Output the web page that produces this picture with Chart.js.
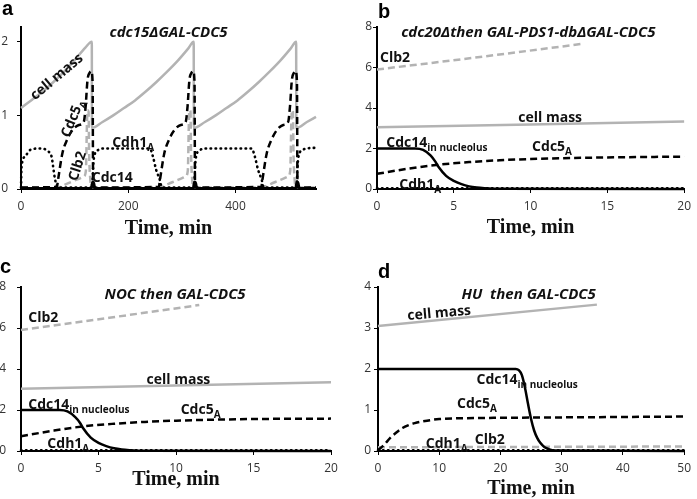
<!DOCTYPE html>
<html>
<head>
<meta charset="utf-8">
<script src="https://cdn.jsdelivr.net/npm/chart.js@4.4.1/dist/chart.umd.min.js"></script>
<style>
  body { margin: 0; background: #fff; width: 697px; height: 499px; position: relative; overflow: hidden; }
  .panel { position: absolute; }
</style>
</head>
<body>
<div class="panel" style="left:0;top:0;width:348px;height:248px"><canvas id="pa"></canvas></div>
<div class="panel" style="left:348px;top:0;width:349px;height:248px"><canvas id="pb"></canvas></div>
<div class="panel" style="left:0;top:248px;width:348px;height:251px"><canvas id="pc"></canvas></div>
<div class="panel" style="left:348px;top:248px;width:349px;height:251px"><canvas id="pd"></canvas></div>
<script>
// ---- panel a : cdc15 GAL-CDC5 (time in min) ----
const aMassT = [0, 20, 40, 60, 80, 100, 120, 132, 132.3, 152, 172, 192, 212, 232, 252, 272, 292, 312, 322, 322.3, 343, 363, 383, 403, 423, 443, 463, 483, 503, 513, 513.3, 533, 550];
const aMassY = [1.10, 1.21, 1.32, 1.45, 1.59, 1.75, 1.92, 2.0, 0.83, 0.91, 1.0, 1.10, 1.20, 1.32, 1.45, 1.59, 1.74, 1.91, 2.0, 0.83, 0.91, 1.0, 1.10, 1.20, 1.32, 1.45, 1.59, 1.74, 1.91, 2.0, 0.83, 0.91, 0.98];

const aCdc5T = [0, 67, 69, 77, 86, 96, 108, 117, 120.5, 124, 128, 131, 133.5, 134.5,
  257, 259, 267, 276, 286, 298, 307, 310.5, 314, 318, 321, 323.5, 324.5,
  448, 450, 458, 467, 477, 489, 498, 501.5, 505, 509, 512, 514.5, 515.5, 550];
const aCdc5Y = [0.02, 0.03, 0.12, 0.48, 0.67, 0.8, 0.87, 0.91, 1.12, 1.48, 1.58, 1.6, 1.45, 0.02,
  0.03, 0.12, 0.48, 0.67, 0.8, 0.87, 0.91, 1.12, 1.48, 1.58, 1.6, 1.45, 0.02,
  0.03, 0.12, 0.48, 0.67, 0.8, 0.87, 0.91, 1.12, 1.48, 1.58, 1.6, 1.45, 0.02, 0.02];

const aClb2T = [0, 67, 85, 105, 117, 121, 123, 124, 126, 127, 129, 131, 133,
  257, 275, 295, 307, 311, 313, 314, 316, 317, 319, 321, 323,
  448, 466, 486, 498, 502, 504, 505, 507, 508, 510, 512, 514, 550];
const aClb2Y = [0.02, 0.02, 0.07, 0.13, 0.17, 0.25, 0.9, 1.07, 1.05, 0.5, 0.15, 0.03, 0.02,
  0.02, 0.07, 0.13, 0.17, 0.25, 0.9, 1.07, 1.05, 0.5, 0.15, 0.03, 0.02,
  0.02, 0.07, 0.13, 0.17, 0.25, 0.9, 1.07, 1.05, 0.5, 0.15, 0.03, 0.02, 0.02];

const aCdh1T = [0, 1, 7.5, 17, 35, 51, 57, 60, 63, 66.5, 70,
  132, 133, 135, 137, 144, 152, 240, 246, 252, 259, 262, 266,
  322, 323, 325, 327, 334, 342, 430, 436, 442, 449, 452, 456,
  513, 514, 516, 518, 525, 533, 550];
const aCdh1Y = [0.02, 0.3, 0.44, 0.53, 0.55, 0.51, 0.44, 0.3, 0.15, 0.05, 0.02,
  0.02, 0.05, 0.35, 0.46, 0.53, 0.55, 0.55, 0.44, 0.26, 0.12, 0.03, 0.02,
  0.02, 0.05, 0.35, 0.46, 0.53, 0.55, 0.55, 0.44, 0.26, 0.12, 0.03, 0.02,
  0.02, 0.05, 0.35, 0.46, 0.53, 0.55, 0.56];

const aCdc14T = [0, 131, 132, 134, 136, 138, 321, 322, 324, 326, 328, 512, 513, 515, 517, 519, 550];
const aCdc14Y = [0.01, 0.01, 0.06, 0.1, 0.08, 0.01, 0.01, 0.06, 0.1, 0.08, 0.01, 0.01, 0.06, 0.1, 0.08, 0.01, 0.01];

// ---- panel b : cdc20 then GAL-PDS1-db GAL-CDC5 ----
const bClb2T = [0, 6.7, 13.5];
const bClb2Y = [5.9, 6.52, 7.18];
const bMassT = [0, 20];
const bMassY = [3.05, 3.33];
const bCdc14T = [0, 2.5, 3, 3.5, 3.8, 4, 4.5, 5, 5.5, 6, 6.5, 7, 8, 20];
const bCdc14Y = [2, 2, 1.93, 1.65, 1.35, 1.1, 0.65, 0.4, 0.24, 0.13, 0.07, 0.04, 0.01, 0];
const bCdc5T = [0, 2, 4, 6, 8, 10, 12, 15, 20];
const bCdc5Y = [0.75, 1.0, 1.2, 1.33, 1.42, 1.48, 1.52, 1.56, 1.6];
const bCdh1T = [0, 20];
const bCdh1Y = [0.04, 0.04];

// ---- panel c : NOC then GAL-CDC5 ----
const cClb2T = [0, 5.7, 11.5];
const cClb2Y = [5.9, 6.5, 7.12];
const cMassT = [0, 20];
const cMassY = [3.04, 3.35];
const cCdc14T = [0, 2.5, 3, 3.5, 3.8, 4, 4.5, 5, 5.5, 6, 6.5, 7, 8, 20];
const cCdc14Y = [2, 2, 1.93, 1.65, 1.38, 1.12, 0.65, 0.4, 0.24, 0.13, 0.07, 0.04, 0.01, 0];
const cCdc5T = [0, 2, 4, 6, 8, 10, 12, 15, 20];
const cCdc5Y = [0.72, 0.98, 1.2, 1.33, 1.42, 1.48, 1.52, 1.56, 1.58];
const cCdh1T = [0, 20];
const cCdh1Y = [0.04, 0.04];

// ---- panel d : HU then GAL-CDC5 ----
const dMassT = [0, 35.75];
const dMassY = [3.05, 3.57];
const dCdc14T = [0, 22.5, 23, 23.5, 24, 24.5, 25, 25.5, 26, 26.5, 27, 27.5, 28, 29, 50];
const dCdc14Y = [2, 2, 1.97, 1.85, 1.55, 1.15, 0.78, 0.5, 0.32, 0.2, 0.12, 0.07, 0.04, 0.01, 0];
const dCdc5T = [0, 1, 2, 3, 4, 5, 6, 8, 10, 14, 20, 30, 50];
const dCdc5Y = [0.02, 0.15, 0.32, 0.45, 0.56, 0.63, 0.68, 0.74, 0.78, 0.8, 0.81, 0.82, 0.84];
const dClb2T = [0, 50];
const dClb2Y = [0.09, 0.11];
const dCdh1T = [0, 50];
const dCdh1Y = [0.02, 0.02];

const GREY = '#b3b3b3';
const FONT = '"Open Sans", "Noto Sans", sans-serif';

function pts(xs, ys) {
  return xs.map((x, i) => ({ x: x, y: ys[i] }));
}

function series(t, y, style) {
  return Object.assign({ data: pts(t, y), pointRadius: 0, borderWidth: 2.5, fill: false, clip: false,
    cubicInterpolationMode: 'monotone' }, style);
}

const sCdc14 = { borderColor: '#000' };
const sCdh1 = { borderColor: '#000', borderWidth: 2.6, borderDash: [0.5, 4.5], borderCapStyle: 'round' };
const sCdc5 = { borderColor: '#000', borderDash: [7, 4] };
const sClb2 = { borderColor: GREY, borderDash: [7, 4] };
const sMass = { borderColor: GREY };

function drawNote(ctx, px, py, n) {
  const main = 'bold 14px ' + FONT;
  const sub = 'bold 10px ' + FONT;
  ctx.save();
  ctx.translate(px, py);
  if (n.rot) ctx.rotate(n.rot * Math.PI / 180);
  ctx.font = main;
  const w1 = ctx.measureText(n.t).width;
  let w2 = 0;
  if (n.s) { ctx.font = sub; w2 = ctx.measureText(n.s).width; }
  const x0 = n.c ? -(w1 + w2) / 2 : 0;
  ctx.fillStyle = '#111';
  ctx.textAlign = 'left';
  ctx.textBaseline = 'middle';
  ctx.font = main;
  ctx.fillText(n.t, x0, 0);
  if (n.s) {
    ctx.font = sub;
    ctx.fillText(n.s, x0 + w1, 5);
  }
  ctx.restore();
}

function panel(id, cfg) {
  const notes = {
    id: 'notes' + id,
    afterDatasetsDraw(chart) {
      const ctx = chart.ctx;
      const xs = chart.scales.x, ys = chart.scales.y, ca = chart.chartArea;
      cfg.notes.forEach(n => drawNote(ctx, xs.getPixelForValue(n.x), ys.getPixelForValue(n.y), n));
      ctx.save();
      ctx.fillStyle = '#111';
      ctx.textAlign = 'center';
      ctx.textBaseline = 'middle';
      ctx.font = 'italic bold 15px ' + FONT;
      ctx.fillText(cfg.title[0], xs.getPixelForValue(cfg.title[1]), ys.getPixelForValue(cfg.title[2]));
      ctx.font = 'bold 20px "Liberation Serif", serif';
      ctx.fillText('Time, min', (ca.left + ca.right) / 2, ca.bottom + cfg.xTitleGap);
      ctx.textAlign = 'left';
      ctx.textBaseline = 'alphabetic';
      ctx.font = 'bold 20px "Liberation Sans", Arial, sans-serif';
      ctx.fillStyle = '#000';
      ctx.fillText(cfg.letter[0], cfg.letter[1], cfg.letter[2]);
      ctx.restore();
    }
  };
  const tickFont = { family: FONT, size: 12 };
  new Chart(document.getElementById(id), {
    type: 'line',
    data: { datasets: cfg.datasets },
    options: {
      responsive: true,
      maintainAspectRatio: false,
      animation: false,
      events: [],
      layout: { padding: { left: 0, top: cfg.top, right: cfg.right, bottom: 0 } },
      plugins: { legend: { display: false }, tooltip: { enabled: false } },
      scales: {
        x: {
          type: 'linear', min: 0, max: cfg.xMax,
          afterFit: s => { s.height = cfg.xh; },
          ticks: { stepSize: cfg.xStep, includeBounds: false, padding: 6, color: '#333', font: tickFont, maxRotation: 0 },
          grid: { drawOnChartArea: false, tickLength: 4, color: '#000' },
          border: { color: '#000', width: 2 }
        },
        y: {
          type: 'linear', min: 0, max: cfg.yMax,
          afterFit: s => { s.width = cfg.left; },
          ticks: { stepSize: cfg.yStep, includeBounds: false, padding: cfg.yPad, color: '#333', font: tickFont },
          grid: { drawOnChartArea: false, tickLength: 4, color: '#000' },
          border: { color: '#000', width: 2 }
        }
      }
    },
    plugins: [notes]
  });
}

panel('pa', {
  left: 21, top: 27, right: 32, xh: 59, xMax: 550, xStep: 200, yMax: 2.2, yStep: 1, yPad: 9, xTitleGap: 40,
  letter: ['a', 2, 15],
  title: ['cdc15\u0394GAL-CDC5', 275, 2.12],
  datasets: [
    series(aCdc14T, aCdc14Y, sCdc14),
    series(aCdc5T, aCdc5Y, sCdc5),
    series(aCdh1T, aCdh1Y, sCdh1),
    series(aClb2T, aClb2Y, sClb2),
    series(aMassT, aMassY, sMass)
  ],
  notes: [
    { x: 67, y: 1.52, t: 'cell mass', rot: -40, c: true },
    { x: 97, y: 0.96, t: 'Cdc5', s: 'A', rot: -68, c: true },
    { x: 106, y: 0.31, t: 'Clb2', rot: -72, c: true },
    { x: 170, y: 0.62, t: 'Cdh1', s: 'A' },
    { x: 132, y: 0.15, t: 'Cdc14' }
  ]
});

panel('pb', {
  left: 29, top: 27, right: 9, xh: 59, xMax: 20, xStep: 5, yMax: 8, yStep: 2, yPad: 1, xTitleGap: 39,
  letter: ['b', 30, 18],
  title: ['cdc20\u0394then GAL-PDS1-db\u0394GAL-CDC5', 9.85, 7.7],
  datasets: [
    series(bCdc14T, bCdc14Y, sCdc14),
    series(bCdc5T, bCdc5Y, sCdc5),
    series(bCdh1T, bCdh1Y, sCdh1),
    series(bClb2T, bClb2Y, sClb2),
    series(bMassT, bMassY, sMass)
  ],
  notes: [
    { x: 0.2, y: 6.47, t: 'Clb2' },
    { x: 9.2, y: 3.5, t: 'cell mass' },
    { x: 0.6, y: 2.27, t: 'Cdc14', s: 'in nucleolus' },
    { x: 10.1, y: 2.09, t: 'Cdc5', s: 'A' },
    { x: 1.45, y: 0.2, t: 'Cdh1', s: 'A' }
  ]
});

panel('pc', {
  left: 21, top: 39, right: 17, xh: 48, xMax: 20, xStep: 5, yMax: 8, yStep: 2, yPad: 11, xTitleGap: 29,
  letter: ['c', 0, 25],
  title: ['NOC then GAL-CDC5', 9.94, 7.64],
  datasets: [
    series(cCdc14T, cCdc14Y, sCdc14),
    series(cCdc5T, cCdc5Y, sCdc5),
    series(cCdh1T, cCdh1Y, sCdh1),
    series(cClb2T, cClb2Y, sClb2),
    series(cMassT, cMassY, sMass)
  ],
  notes: [
    { x: 0.47, y: 6.5, t: 'Clb2' },
    { x: 8.1, y: 3.48, t: 'cell mass' },
    { x: 0.47, y: 2.25, t: 'Cdc14', s: 'in nucleolus' },
    { x: 10.3, y: 2.0, t: 'Cdc5', s: 'A' },
    { x: 1.7, y: 0.35, t: 'Cdh1', s: 'A' }
  ]
});

panel('pd', {
  left: 30, top: 39, right: 9, xh: 48, xMax: 50, xStep: 10, yMax: 4, yStep: 1, yPad: 3, xTitleGap: 38,
  letter: ['d', 30, 30],
  title: ['HU  then GAL-CDC5', 24.6, 3.82],
  datasets: [
    series(dCdc14T, dCdc14Y, sCdc14),
    series(dCdc5T, dCdc5Y, sCdc5),
    series(dCdh1T, dCdh1Y, sCdh1),
    series(dClb2T, dClb2Y, sClb2),
    series(dMassT, dMassY, sMass)
  ],
  notes: [
    { x: 4.8, y: 3.29, t: 'cell mass', rot: -5 },
    { x: 16.1, y: 1.73, t: 'Cdc14', s: 'in nucleolus' },
    { x: 12.9, y: 1.14, t: 'Cdc5', s: 'A' },
    { x: 7.8, y: 0.16, t: 'Cdh1', s: 'A' },
    { x: 15.8, y: 0.27, t: 'Clb2' }
  ]
});
</script>
</body>
</html>
